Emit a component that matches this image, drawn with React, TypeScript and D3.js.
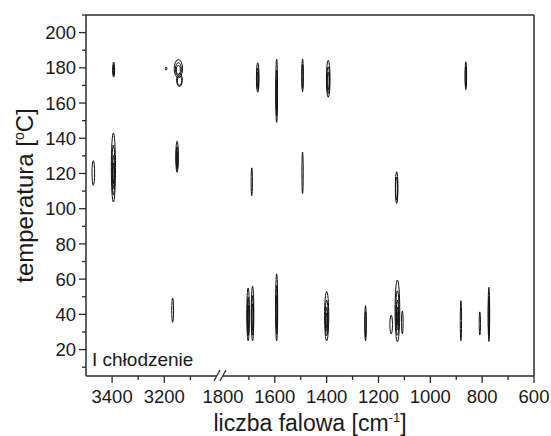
import React from 'react';
import * as d3 from 'd3';

// ---- data ----
const yMajorTicks = [20, 40, 60, 80, 100, 120, 140, 160, 180, 200];
const yMinorTicks = [10, 30, 50, 70, 90, 110, 130, 150, 170, 190, 210];
const xLeftMajor = [3400, 3200];
const xLeftMinor = [3300, 3100];
const xRightMajor = [1800, 1600, 1400, 1200, 1000, 800, 600];
const xRightMinor = [1700, 1500, 1300, 1100, 900, 700];

// [wavenumber, temperature, half-width cm-1, half-height °C, contour levels]
const peaksHigh: number[][] = [
  [3394, 179, 3.5, 4.3, 3],
  [3193, 179.6, 3, 0.9, 1],
  [3146, 179.5, 16, 5.2, 3],
  [3142, 173, 11, 3.6, 2],
  [1666, 174.5, 5, 8.4, 3],
  [1593, 167, 3.5, 18, 3],
  [1493, 175.7, 3, 9.3, 2],
  [1394, 173.8, 7, 10.5, 3],
  [863, 175.5, 3, 7.9, 2],
];
const peaksMid: number[][] = [
  [3472, 120.3, 5, 7, 1],
  [3395, 123.4, 8, 19.6, 4],
  [3151, 129.5, 5, 8.8, 3],
  [1689, 115.3, 2.5, 7.9, 1],
  [1493, 120.4, 2.5, 11.8, 1],
  [1130, 112, 5, 9, 2],
];
const peaksLow: number[][] = [
  [3168, 42.4, 3.5, 6.9, 1],
  [1703, 40, 5, 15, 3],
  [1686, 40.5, 5, 15.5, 3],
  [1593, 44, 4, 19, 3],
  [1400, 39, 8, 14, 4],
  [1250, 35, 3, 10, 2],
  [1127, 42, 9, 17.5, 5],
  [1151, 34.2, 5, 5.3, 1],
  [1108, 35.4, 3, 6.5, 1],
  [882, 36.4, 2.5, 11.4, 1],
  [809, 34.8, 2.5, 6.6, 1],
  [774, 40, 3, 15.4, 2],
];

const W = 551, H = 436;
const L = 86, R = 534, T = 15, B = 376;
const xL = d3.scaleLinear().domain([3500, 3000]).range([L, 216.5]);
const xR = d3.scaleLinear().domain([1800, 600]).range([223, R]);
const xs = (wn: number) => (wn > 2400 ? xL(wn) : xR(wn));
const y = d3.scaleLinear().domain([5, 210]).range([B, T]);
const FONT = 'Liberation Sans, Arial, Helvetica, sans-serif';
const levelFactors = [1, 0.72, 0.48, 0.3, 0.16];

function Peak({ p }: { p: number[] }) {
  const [wn, t, hw, hh, n] = p;
  const cx = xs(wn), cy = y(t);
  const rx = Math.abs(xs(wn + hw) - cx);
  const ry = Math.abs(y(t + hh) - cy);
  return (
    <g>
      {d3.range(n).map((k) => (
        <ellipse key={k} cx={cx} cy={cy + ry * (1 - levelFactors[k]) * 0.25}
          rx={Math.max(0.6, rx * levelFactors[k])} ry={ry * levelFactors[k]}
          fill="none" stroke="#111" strokeWidth={1} />
      ))}
    </g>
  );
}

export default function App() {
  const allPeaks = [...peaksHigh, ...peaksMid, ...peaksLow];
  const axisColor = '#2a2a2a';
  const tickFont = 18.5;
  return (
    <svg width={W} height={H} style={{ position: 'absolute', left: 0, top: 0, background: '#fff' }}>
      <rect x={0} y={0} width={W} height={H} fill="#fff" />
      {allPeaks.map((p, i) => <Peak key={i} p={p} />)}
      {/* frame */}
      <line x1={L} y1={T} x2={R} y2={T} stroke={axisColor} strokeWidth={1.5} />
      <line x1={R} y1={T} x2={R} y2={B} stroke={axisColor} strokeWidth={1.5} />
      <line x1={L} y1={T} x2={L} y2={B} stroke={axisColor} strokeWidth={1.5} />
      <line x1={L} y1={B} x2={217} y2={B} stroke={axisColor} strokeWidth={1.5} />
      <line x1={223} y1={B} x2={R} y2={B} stroke={axisColor} strokeWidth={1.5} />
      <line x1={214} y1={381} x2={220} y2={370} stroke={axisColor} strokeWidth={1.3} />
      <line x1={220} y1={381} x2={226} y2={370} stroke={axisColor} strokeWidth={1.3} />
      {/* y ticks */}
      {yMajorTicks.map((v) => (
        <g key={v}>
          <line x1={L - 7} x2={L} y1={y(v)} y2={y(v)} stroke={axisColor} strokeWidth={1.3} />
          <text x={L - 10} y={y(v)} dy="0.36em" textAnchor="end" fontFamily={FONT} fontSize={tickFont} fill="#1a1a1a">{v}</text>
        </g>
      ))}
      {yMinorTicks.map((v) => (
        <line key={v} x1={L - 4} x2={L} y1={y(v)} y2={y(v)} stroke={axisColor} strokeWidth={1.3} />
      ))}
      {/* x ticks */}
      {xLeftMajor.map((v) => (
        <g key={v}>
          <line x1={xL(v)} x2={xL(v)} y1={B} y2={B + 7} stroke={axisColor} strokeWidth={1.3} />
          <text x={xL(v)} y={403} textAnchor="middle" fontFamily={FONT} fontSize={tickFont} fill="#1a1a1a">{v}</text>
        </g>
      ))}
      {xLeftMinor.map((v) => (
        <line key={v} x1={xL(v)} x2={xL(v)} y1={B} y2={B + 4} stroke={axisColor} strokeWidth={1.3} />
      ))}
      {xRightMajor.map((v) => (
        <g key={v}>
          {v !== 1800 && <line x1={xR(v)} x2={xR(v)} y1={B} y2={B + 7} stroke={axisColor} strokeWidth={1.3} />}
          <text x={xR(v)} y={403} textAnchor="middle" fontFamily={FONT} fontSize={tickFont} fill="#1a1a1a">{v}</text>
        </g>
      ))}
      {xRightMinor.map((v) => (
        <line key={v} x1={xR(v)} x2={xR(v)} y1={B} y2={B + 4} stroke={axisColor} strokeWidth={1.3} />
      ))}
      {/* titles */}
      <text x={(L + R) / 2} y={431} textAnchor="middle" fontFamily={FONT} fontSize={23} fill="#1a1a1a">
        liczba falowa [cm<tspan dy={-9} fontSize={13}>-1</tspan><tspan dy={9}>]</tspan>
      </text>
      <text transform={`translate(33,${(T + B) / 2}) rotate(-90)`} textAnchor="middle" fontFamily={FONT} fontSize={24} fill="#1a1a1a">
        temperatura [<tspan dy={-9} fontSize={14}>o</tspan><tspan dy={9}>C]</tspan>
      </text>
      <text x={92} y={366} fontFamily={FONT} fontSize={19} fill="#1a1a1a">I chłodzenie</text>
    </svg>
  );
}
